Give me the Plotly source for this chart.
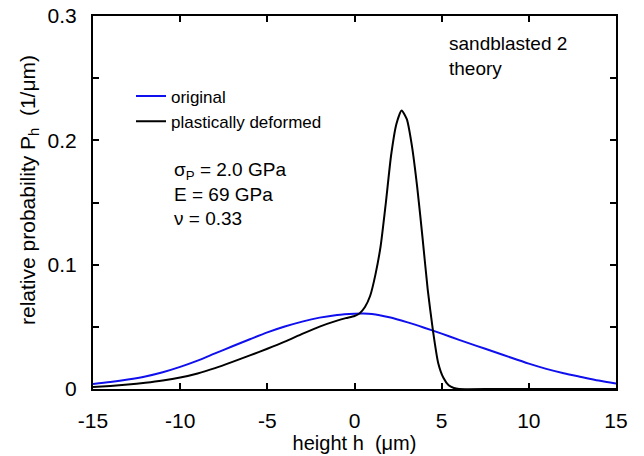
import plotly.graph_objects as go

# data
h_orig = [-15, -14, -13, -12, -11, -10, -9, -8, -7, -6, -5, -4, -3, -2, -1, 0, 0.5, 1, 2, 3, 4, 5, 6, 7, 8, 9, 10, 11, 12, 13, 14, 15]
p_orig = [0.004, 0.0056, 0.0076, 0.0101, 0.0135, 0.0178, 0.0228, 0.0286, 0.0344, 0.0400, 0.0455, 0.0502, 0.0542, 0.0574, 0.0596, 0.0606, 0.0608, 0.0604, 0.0577, 0.0538, 0.0493, 0.0445, 0.0395, 0.0347, 0.0300, 0.0251, 0.0204, 0.0162, 0.0127, 0.0097, 0.0068, 0.0045]

h_def = [-15, -14, -13, -12, -11, -10, -9, -8, -7, -6, -5, -4, -3, -2, -1, -0.5, 0, 0.3, 0.6, 0.9, 1.2, 1.5, 1.8, 2.1, 2.4, 2.7, 3.0, 3.3, 3.6, 3.9, 4.2, 4.5, 4.8, 5.1, 5.4, 5.7, 6.0, 8, 10, 12, 15]
p_def = [0.0016, 0.0025, 0.0036, 0.0050, 0.0068, 0.0092, 0.0125, 0.0168, 0.0218, 0.0270, 0.0324, 0.0381, 0.0443, 0.0502, 0.0550, 0.0570, 0.0587, 0.0610, 0.066, 0.075, 0.092, 0.115, 0.150, 0.188, 0.213, 0.224, 0.217, 0.195, 0.162, 0.122, 0.080, 0.047, 0.021, 0.009, 0.003, 0.0008, 0.0, 0.0, 0.0, 0.0, 0.0]

x_ticks = [-15, -10, -5, 0, 5, 10, 15]
x_text = ["-15", "-10", "-5", "0", "5", "10", "15"]
y_ticks = [0, 0.1, 0.2, 0.3]
y_text = ["0", "0.1", "0.2", "0.3"]

FONT = "Liberation Sans, Arial, Helvetica, sans-serif"

L, R, T, B = 93, 616, 16, 389


def px_x(p):
    return (p - L) / (R - L)


def px_y(p):
    return (B - p) / (B - T)


fig = go.Figure()
fig.add_trace(go.Scatter(x=h_orig, y=p_orig, mode="lines", name="original",
                         line=dict(color="#1010ee", width=2, shape="spline", smoothing=0.8)))
fig.add_trace(go.Scatter(x=h_def, y=p_def, mode="lines", name="plastically deformed",
                         line=dict(color="black", width=2, shape="spline", smoothing=0.6)))

axis_common = dict(ticks="inside", ticklen=6, tickwidth=1.5, tickcolor="black",
                   showline=True, linecolor="black", linewidth=2, mirror="ticks",
                   showgrid=False, zeroline=False, automargin=False,
                   tickfont=dict(size=21, family=FONT, color="black"))

fig.update_layout(
    width=644, height=456,
    margin=dict(l=L, r=644 - R, t=T, b=456 - B),
    paper_bgcolor="white", plot_bgcolor="white",
    font=dict(family=FONT, color="black"),
    showlegend=True,
    legend=dict(x=px_x(131), y=px_y(109), xanchor="left", yanchor="middle",
                bgcolor="rgba(0,0,0,0)", font=dict(size=17, family=FONT),
                itemwidth=30, tracegroupgap=0),
    xaxis=dict(range=[-15, 15], tickvals=x_ticks, ticktext=x_text, ticklabelstandoff=12,
               title=dict(text="height h  (μm)", font=dict(size=20, family=FONT), standoff=0),
               **axis_common),
    yaxis=dict(range=[0, 0.3], tickvals=y_ticks, ticktext=y_text, ticklabelstandoff=10,
               minor=dict(dtick=0.05, ticks="inside", ticklen=6, tickwidth=1.5, tickcolor="black"),
               **axis_common),
)

ann_font = dict(size=19, family=FONT, color="black")
fig.add_annotation(x=px_x(29), y=px_y(190), xref="paper", yref="paper",
                   text="relative probability P<sub>h</sub>  (1/μm)", textangle=-90,
                   showarrow=False, xanchor="center", yanchor="middle",
                   font=dict(size=21, family=FONT, color="black"))
fig.add_annotation(x=px_x(447), y=px_y(56), xref="paper", yref="paper",
                   text="sandblasted 2<br>theory", showarrow=False, xanchor="left",
                   yanchor="middle", align="left", font=ann_font)
fig.add_annotation(x=px_x(172), y=px_y(194), xref="paper", yref="paper",
                   text="σ<sub>P</sub> = 2.0 GPa<br>E = 69 GPa<br>ν = 0.33",
                   showarrow=False, xanchor="left", yanchor="middle", align="left", font=ann_font)

fig.write_html("out.html")
